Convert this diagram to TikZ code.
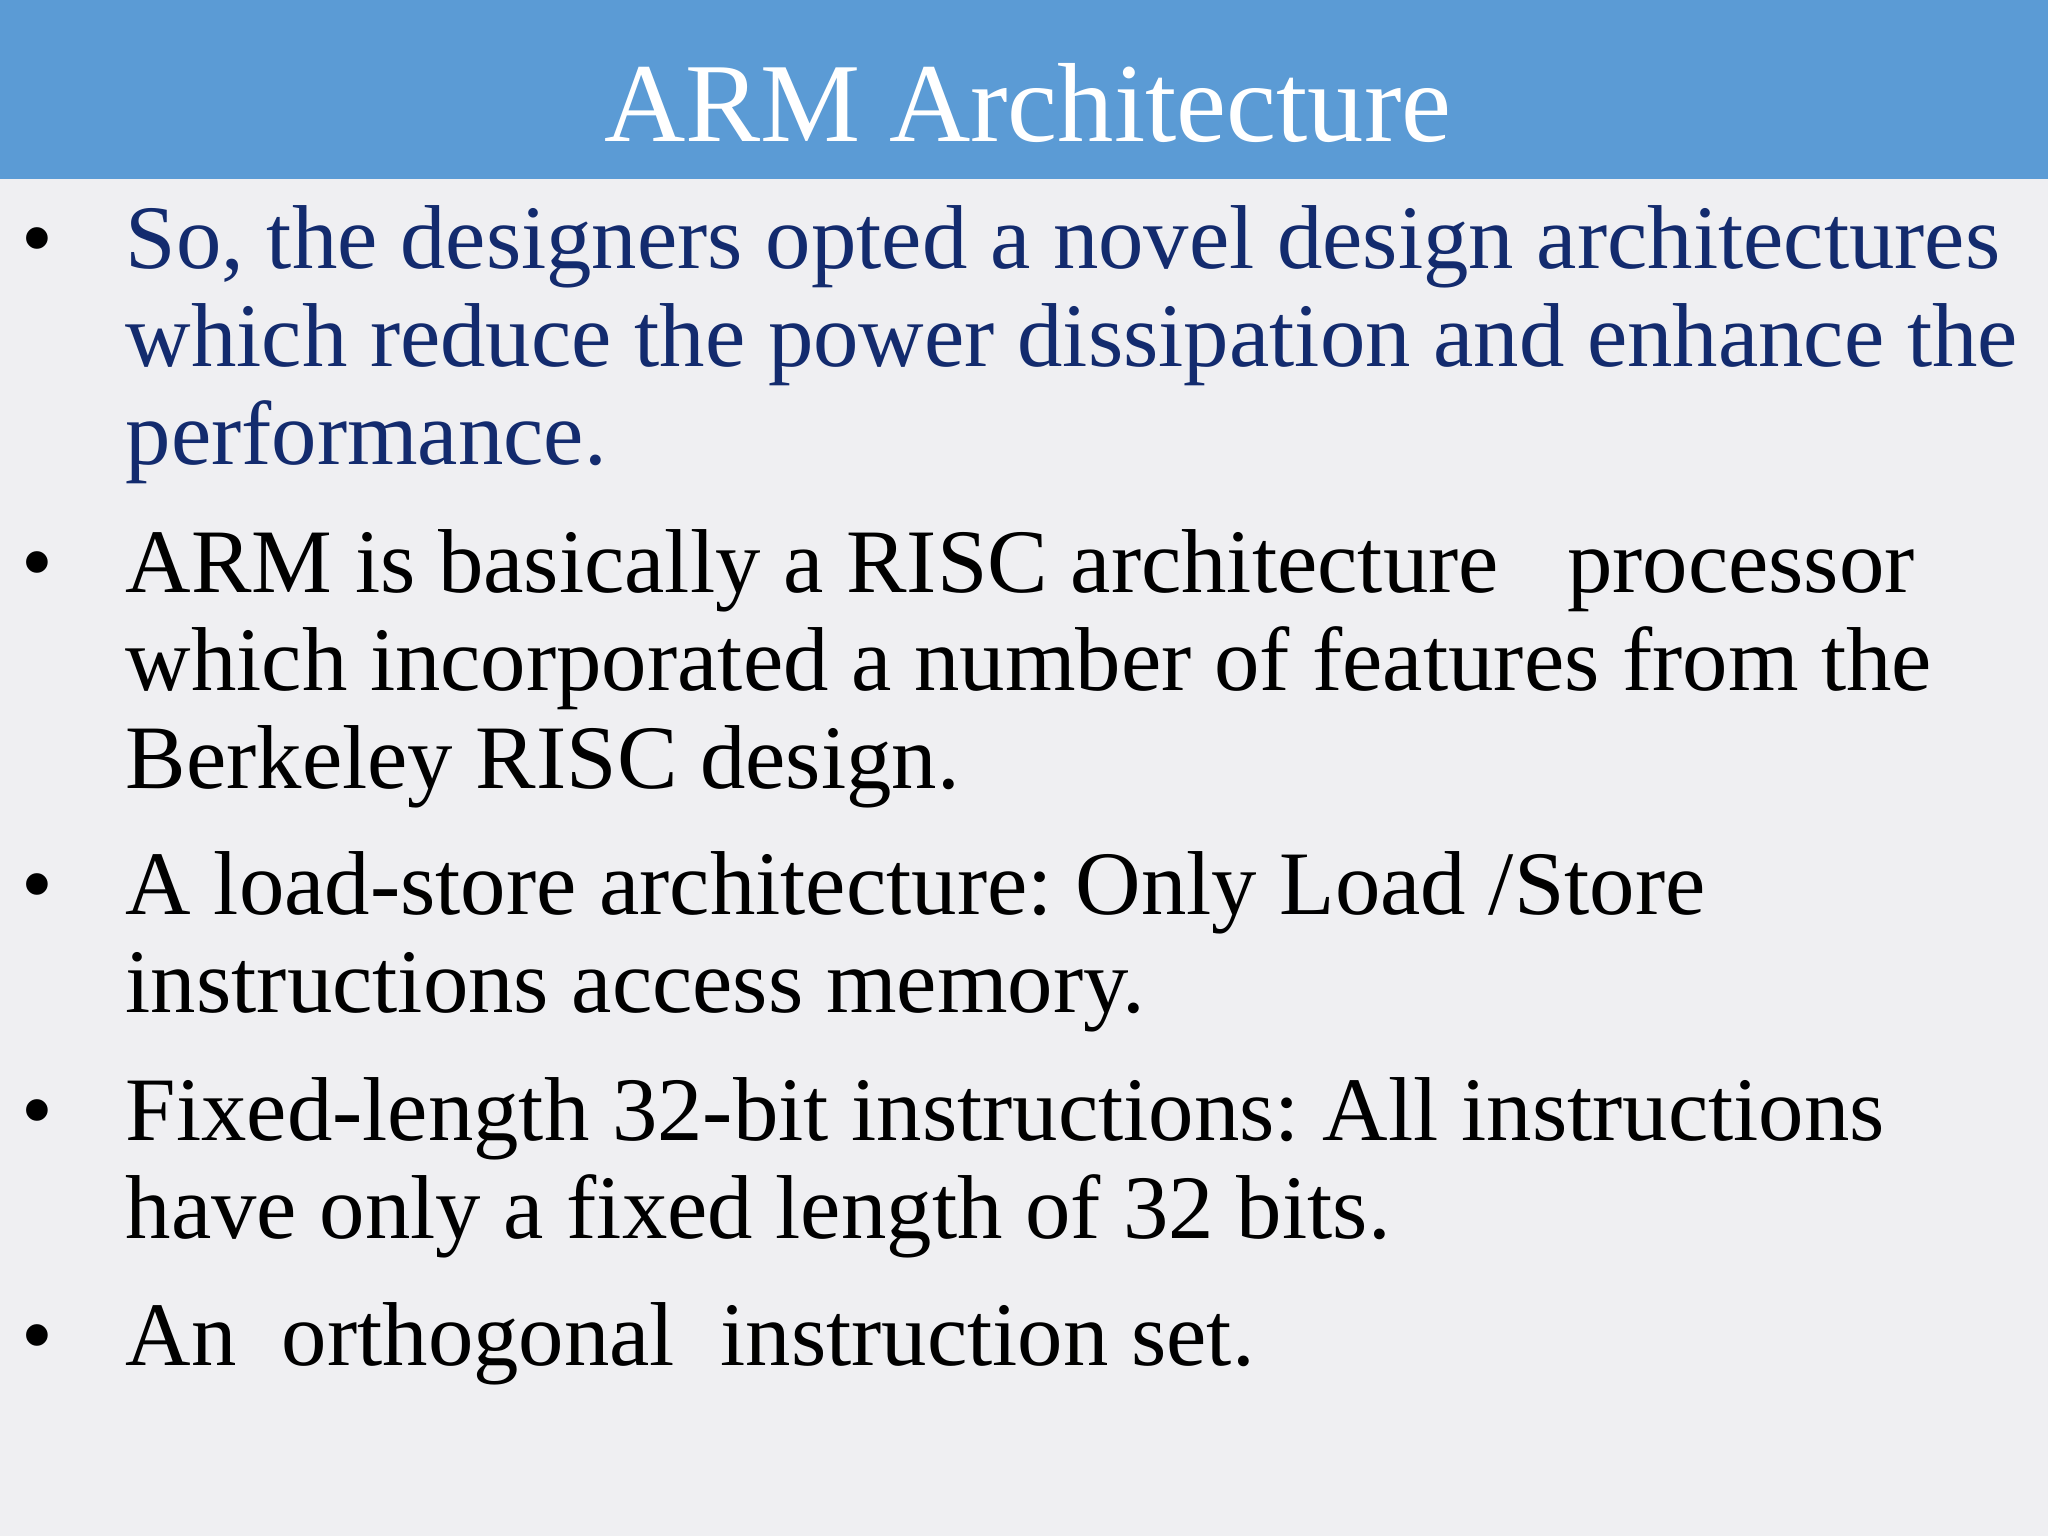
\documentclass[tikz,border=0pt]{standalone}
\usepackage{fontspec}
\setmainfont{Liberation Serif}
\definecolor{hdr}{HTML}{5B9BD5}
\definecolor{bg}{HTML}{EFEFF2}
\definecolor{dblue}{HTML}{132B6E}
\frenchspacing
\begin{document}
\begin{tikzpicture}[x=0.01cm,y=-0.01cm,
  ln/.style={anchor=base west,inner sep=0pt,font=\fontsize{25.8}{28}\selectfont\frenchspacing},
  bl/.style={anchor=base,inner sep=0pt,font=\fontsize{25.8}{28}\selectfont}]
\fill[bg] (0,0) rectangle (2048,1536);
\useasboundingbox (0,0) rectangle (2048,1536);
\fill[hdr] (0,0) rectangle (2048,179);
\node[anchor=base,inner sep=0pt,text=white,font=\fontsize{32}{33}\selectfont] (title) at (1028,141) {ARM Architecture};
\foreach \y/\n in {268/b1,592/b2,914/b3,1140/b4,1365/b5}
  \node[bl] (\n) at (37,\y) {•};
\node[ln,text=dblue] (l1) at (125,268) {So, the designers opted a novel design architectures};
\node[ln,text=dblue] (l2) at (125,366) {which reduce the power dissipation and enhance the};
\node[ln,text=dblue] (l3) at (125,464) {performance.};
\node[ln] (l4) at (125,592) {ARM is basically a RISC architecture ~ processor};
\node[ln] (l5) at (125,690) {which incorporated a number of features from the};
\node[ln] (l6) at (125,788) {Berkeley RISC design.};
\node[ln] (l7) at (125,914) {A load-store architecture: Only Load /Store};
\node[ln] (l8) at (125,1012) {instructions access memory.};
\node[ln] (l9) at (125,1140) {Fixed-length 32-bit instructions: All instructions};
\node[ln] (l10) at (125,1238) {have only a fixed length of 32 bits.};
\node[ln] (l11) at (125,1365) {An~ orthogonal~ instruction set.};
\end{tikzpicture}
\end{document}
